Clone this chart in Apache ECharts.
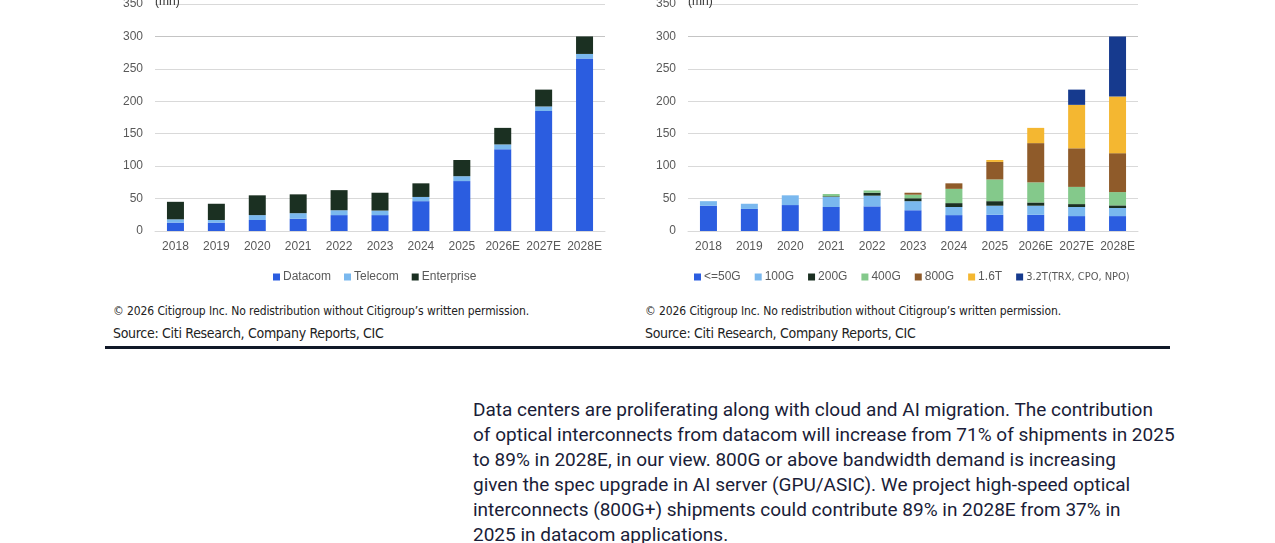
<!DOCTYPE html>
<html>
<head>
<meta charset="utf-8">
<title>Optical interconnect shipments</title>
<script src="https://cdn.jsdelivr.net/npm/echarts@6/dist/echarts.min.js"></script>
<style>
  html, body { margin: 0; padding: 0; background: #fff; }
  body { width: 1275px; height: 543px; position: relative; overflow: hidden; }
  #charts { position: absolute; left: 0; top: -20px; width: 1275px; height: 320px; }
  .foot { position: absolute; font-family: "DejaVu Sans Condensed", "Liberation Sans Narrow", sans-serif; color: #222; white-space: nowrap; }
  .copy { font-size: 12px; letter-spacing: -0.1px; top: 304px; }
  .src { font-size: 14px; letter-spacing: -0.3px; top: 325px; }
  #rule { position: absolute; left: 105px; top: 346px; width: 1065px; height: 3px; background: #101828; }
  #para { position: absolute; left: 473px; top: 397px; font-family: Roboto, "Noto Sans", sans-serif; font-size: 19px; line-height: 25px; color: #1a1d38; white-space: nowrap; }
</style>
</head>
<body>
<div id="charts"></div>
<div class="foot copy" style="left:113px">© 2026 Citigroup Inc. No redistribution without Citigroup’s written permission.</div>
<div class="foot src" style="left:113px">Source: Citi Research, Company Reports, CIC</div>
<div class="foot copy" style="left:645px">© 2026 Citigroup Inc. No redistribution without Citigroup’s written permission.</div>
<div class="foot src" style="left:645px">Source: Citi Research, Company Reports, CIC</div>
<div id="rule"></div>
<div id="para">Data centers are proliferating along with cloud and AI migration. The contribution<br>of optical interconnects from datacom will increase from 71% of shipments in 2025<br>to 89% in 2028E, in our view. 800G or above bandwidth demand is increasing<br>given the spec upgrade in AI server (GPU/ASIC). We project high-speed optical<br>interconnects (800G+) shipments could contribute 89% in 2028E from 37% in<br>2025 in datacom applications.</div>
<script>
// years on both charts
var years = ['2018', '2019', '2020', '2021', '2022', '2023', '2024', '2025', '2026E', '2027E', '2028E'];

// left: by application (mn units)
var datacom    = [13, 13, 17, 19, 24.5, 24.5, 46, 77, 126, 185, 266];
var telecom    = [5, 4, 7.5, 8.5, 7.5, 7, 6.5, 7.5, 7.5, 7, 7];
var enterprise = [27, 25, 30.5, 29, 31, 27.5, 21, 25, 25.5, 26, 27];

// right: by speed (mn units)
var g50   = [39, 34, 40, 37, 38, 32, 24.5, 25, 25, 23, 23];
var g100  = [7, 8, 15, 15.5, 16.5, 14, 12.5, 14, 14, 14, 12.5];
var g200  = [0, 0, 0, 1, 4.5, 4.5, 6, 7, 5, 4.5, 4];
var g400  = [0, 0, 0, 3.5, 3.5, 5.5, 22, 33.5, 31, 26.5, 20.5];
var g800  = [0, 0, 0, 0, 0, 3, 8.5, 27, 60.5, 59.5, 60];
var t16   = [0, 0, 0, 0, 0, 0, 0, 3, 23.5, 67, 87.5];
var t32   = [0, 0, 0, 0, 0, 0, 0, 0, 0, 23.5, 92.5];

var grey = '#595959';
var font = '"Liberation Sans", Arial, sans-serif';
var gridColors = ['#d9d9d9', '#d9d9d9', '#d9d9d9', '#d9d9d9', '#d9d9d9', '#d9d9d9', '#c4c4c4', '#d9d9d9'];

function xAxisFor(i) {
    return {
        type: 'category', gridIndex: i, data: years,
        axisTick: { show: false },
        axisLine: { lineStyle: { color: '#d9d9d9' } },
        axisLabel: { color: grey, fontSize: 12, fontFamily: font, margin: 10, interval: 0 }
    };
}
function yAxisFor(i) {
    return {
        type: 'value', gridIndex: i, min: 0, max: 350, interval: 50,
        name: '(mn)', nameLocation: 'end', nameGap: 2,
        nameTextStyle: { color: '#333', fontSize: 12, fontFamily: font, align: 'left', verticalAlign: 'middle' },
        axisLabel: { color: grey, fontSize: 12, fontFamily: font, margin: 12 },
        splitLine: { lineStyle: { color: gridColors } }
    };
}
function bar(name, data, color, idx) {
    return {
        name: name, type: 'bar', stack: 's' + idx, data: data,
        xAxisIndex: idx, yAxisIndex: idx, barWidth: 17,
        itemStyle: { color: color }
    };
}

var myChart = echarts.init(document.getElementById('charts'));
option = {
    animation: false,
    textStyle: { fontFamily: font },
    grid: [
        { left: 155, top: 24, width: 450, height: 227 },
        { left: 688, top: 24, width: 450, height: 227 }
    ],
    xAxis: [xAxisFor(0), xAxisFor(1)],
    yAxis: [yAxisFor(0), yAxisFor(1)],
    legend: [{
        data: ['Datacom', 'Telecom', 'Enterprise'],
        left: 268, top: 286, itemWidth: 7, itemHeight: 7, itemGap: 13, icon: 'rect',
        textStyle: { color: grey, fontSize: 12, padding: [0, 0, 0, -2] }
    }, {
        data: ['<=50G', '100G', '200G', '400G', '800G', '1.6T', '3.2T(TRX, CPO, NPO)'],
        left: 689, top: 286, itemWidth: 7, itemHeight: 7, itemGap: 14, icon: 'rect',
        formatter: function (n) {
            return n.indexOf('3.2T') === 0 ? '{n|' + n + '}' : n;
        },
        textStyle: {
            color: grey, fontSize: 12, padding: [0, 0, 0, -2],
            rich: { n: { fontFamily: '"Liberation Sans Narrow", "DejaVu Sans Condensed", sans-serif', fontSize: 11, color: grey } }
        }
    }],
    series: [
        bar('Datacom', datacom, '#2b5de0', 0),
        bar('Telecom', telecom, '#7ab8ee', 0),
        bar('Enterprise', enterprise, '#1b3022', 0),
        bar('<=50G', g50, '#2b5de0', 1),
        bar('100G', g100, '#7ab8ee', 1),
        bar('200G', g200, '#1b3022', 1),
        bar('400G', g400, '#84c98b', 1),
        bar('800G', g800, '#8f5b2a', 1),
        bar('1.6T', t16, '#f4b731', 1),
        bar('3.2T(TRX, CPO, NPO)', t32, '#163a8e', 1)
    ]
};
myChart.setOption(option);
</script>
</body>
</html>
